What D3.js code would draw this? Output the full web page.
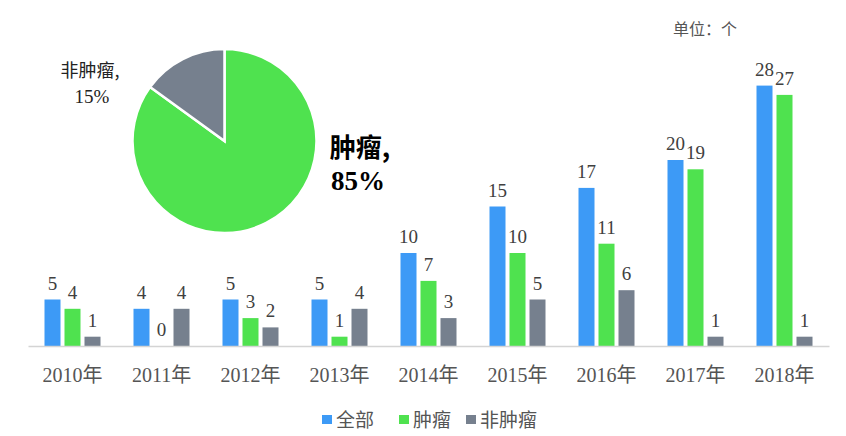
<!DOCTYPE html>
<html>
<head>
<meta charset="utf-8">
<script src="https://cdn.jsdelivr.net/npm/d3@7"></script>
<style>
  body { margin: 0; background: #fff; }
  svg { display: block; }
</style>
</head>
<body>
<div id="chart"></div>
<script>
// data
var years = ['2010年', '2011年', '2012年', '2013年', '2014年', '2015年', '2016年', '2017年', '2018年'];
var seriesNames = ['全部', '肿瘤', '非肿瘤'];
var allCounts = [5, 4, 5, 5, 10, 15, 17, 20, 28];
var tumorCounts = [4, 0, 3, 1, 7, 10, 11, 19, 27];
var nonTumorCounts = [1, 4, 2, 4, 3, 5, 6, 1, 1];
var pieNames = ['肿瘤', '非肿瘤'];
var pieShares = [85, 15];

var colors = ['#3d9af6', '#4fe24f', '#76808e'];
var serif = '"Liberation Serif", "Times New Roman", "Noto Sans CJK SC", serif';
var sans = '"Noto Sans CJK SC", "Noto Sans", sans-serif';

var width = 846, height = 436;
var baseY = 346;

var svg = d3.select('#chart').append('svg')
	.attr('width', width)
	.attr('height', height);

// build rows for the grouped bars
var seriesValues = [allCounts, tumorCounts, nonTumorCounts];
var rows = years.map(function(y, i) {
	return {
		year: y,
		values: seriesNames.map(function(s, j) { return {name: s, idx: j, value: seriesValues[j][i]}; })
	};
});

var x0 = d3.scaleBand()
	.domain(years)
	.range([28, 829])
	.padding(0);

var x1 = d3.scaleBand()
	.domain(seriesNames)
	.range([0, 56])
	.paddingInner(0.2);

var y = d3.scaleLinear()
	.domain([0, 30])
	.range([baseY, baseY - 279]);

var groupOffset = (x0.bandwidth() - 56) / 2;

var groups = svg.selectAll('g.year')
	.data(rows)
	.enter()
	.append('g')
		.attr('class', 'year')
		.attr('transform', function(d) { return 'translate(' + (x0(d.year) + groupOffset) + ',0)'; });

groups.selectAll('rect')
	.data(function(d) { return d.values; })
	.enter()
	.append('rect')
		.attr('x', function(d) { return x1(d.name); })
		.attr('y', function(d) { return y(d.value); })
		.attr('width', x1.bandwidth())
		.attr('height', function(d) { return baseY - y(d.value); })
		.style('fill', function(d) { return colors[d.idx]; });

groups.selectAll('text')
	.data(function(d) { return d.values; })
	.enter()
	.append('text')
		.attr('x', function(d) { return x1(d.name) + x1.bandwidth() / 2; })
		.attr('y', function(d) { return y(d.value) - 10; })
		.attr('text-anchor', 'middle')
		.style('font-family', serif)
		.style('font-size', '19px')
		.style('fill', '#404040')
		.text(function(d) { return d.value; });

// x axis
var xAxis = svg.append('g')
	.attr('transform', 'translate(0,' + baseY + ')')
	.call(d3.axisBottom(x0).tickSize(0).tickPadding(22));
xAxis.select('.domain').attr('stroke', '#d4d4d4').attr('stroke-width', 1.5);
xAxis.selectAll('text')
	.style('font-family', serif)
	.style('font-size', '20px')
	.style('fill', '#555');

// unit label
svg.append('text')
	.attr('x', 705)
	.attr('y', 35)
	.attr('text-anchor', 'middle')
	.style('font-family', sans)
	.style('font-size', '16px')
	.style('fill', '#555')
	.text('单位：个');

// legend
var legendX = [322, 399, 466];
var legend = svg.selectAll('g.legend')
	.data(seriesNames)
	.enter()
	.append('g')
		.attr('class', 'legend')
		.attr('transform', function(d, i) { return 'translate(' + legendX[i] + ',0)'; });
legend.append('rect')
	.attr('x', 0)
	.attr('y', 415)
	.attr('width', 10)
	.attr('height', 9)
	.style('fill', function(d, i) { return colors[i]; });
legend.append('text')
	.attr('x', 14)
	.attr('y', 427)
	.style('font-family', sans)
	.style('font-size', '19px')
	.style('fill', '#555')
	.text(function(d) { return d; });

// pie
var pie = d3.pie().sort(null).value(function(d) { return d; });
var arc = d3.arc().innerRadius(0).outerRadius(92);
var pieColors = [colors[1], colors[2]];

var pieG = svg.append('g')
	.attr('transform', 'translate(224.5,141)');
pieG.selectAll('path')
	.data(pie(pieShares))
	.enter()
	.append('path')
		.attr('d', arc)
		.style('fill', function(d, i) { return pieColors[i]; })
		.style('stroke', '#fff')
		.style('stroke-width', 2.5);

// pie labels
var tumorLabel = svg.append('text')
	.attr('text-anchor', 'middle')
	.style('font-weight', 'bold')
	.style('fill', '#000');
tumorLabel.append('tspan')
	.attr('x', 360).attr('y', 157)
	.style('font-family', sans)
	.style('font-size', '26px')
	.text(pieNames[0] + ',');
tumorLabel.append('tspan')
	.attr('x', 358).attr('y', 190)
	.style('font-family', serif)
	.style('font-size', '27px')
	.text(pieShares[0] + '%');

var otherLabel = svg.append('text')
	.attr('text-anchor', 'middle')
	.style('fill', '#222');
otherLabel.append('tspan')
	.attr('x', 90).attr('y', 77)
	.style('font-family', sans)
	.style('font-size', '18px')
	.text(pieNames[1] + ',');
otherLabel.append('tspan')
	.attr('x', 92).attr('y', 103)
	.style('font-family', serif)
	.style('font-size', '19px')
	.text(pieShares[1] + '%');
</script>
</body>
</html>
